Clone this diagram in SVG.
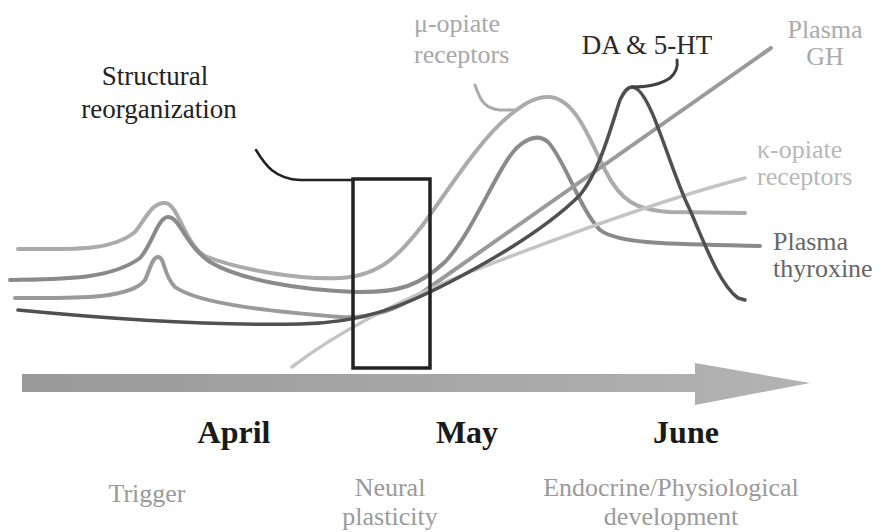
<svg xmlns="http://www.w3.org/2000/svg" width="885" height="532" viewBox="0 0 885 532">
  <defs>
    <linearGradient id="arrowGrad" x1="0" y1="0" x2="1" y2="0">
      <stop offset="0" stop-color="#999999"/>
      <stop offset="0.5" stop-color="#a6a6a6"/>
      <stop offset="1" stop-color="#b3b3b3"/>
    </linearGradient>
  </defs>
  <style>
    .curve { fill: none; stroke-linecap: round; stroke-linejoin: round; }
    .mu { stroke: #ababab; stroke-width: 4; }
    .thy { stroke: #8a8a8a; stroke-width: 4; }
    .gh { stroke: #9a9a9a; stroke-width: 4; }
    .da { stroke: #505050; stroke-width: 3.5; }
    .kappa { stroke: #c4c4c4; stroke-width: 3.5; }
    .lead { fill: none; stroke-linecap: round; }
  </style>
  <rect width="885" height="532" fill="#ffffff"/>

  <g id="connectors">
    <path id="mu-curve" class="curve mu" d="M18,249 C70,249 110,252 135,232 C148,215 152,203 165,203 C178,203 185,245 205,256 C240,270 300,280 340,278 C380,276 400,255 425,222 C455,180 480,140 510,115 C525,103 535,97 548,97 C575,97 590,140 605,170 C620,200 635,210 670,212 L745,213"/>
    <path id="thyroxine-curve" class="curve thy" d="M10,280 C60,279 110,280 140,258 C152,245 158,217 168,217 C180,217 185,245 210,262 C240,280 300,290 355,292 C400,293 420,285 445,262 C475,230 500,160 520,145 C530,137 540,135 548,142 C565,160 580,210 600,230 C620,245 680,244 760,246"/>
    <path id="gh-curve" class="curve gh" d="M15,298 C70,298 130,300 145,280 C150,270 152,257 158,257 C165,257 163,275 175,287 C200,305 280,312 340,317 C370,319 395,311 420,294 L771,48"/>
    <path id="kappa-curve" class="curve kappa" d="M292,367 C340,330 400,300 470,272 C560,237 660,200 745,178"/>
    <path id="da-curve" class="curve da" d="M18,310 C100,318 200,326 300,324 C360,323 400,308 450,282 C500,256 550,225 580,195 C600,170 610,130 620,100 C625,90 628,87 632,87 C640,87 650,105 660,133 C672,165 680,190 690,210 C705,245 720,285 738,298 L745,300"/>
    <path id="structural-leader" class="lead" stroke="#222" stroke-width="2.5" d="M256,150 C265,165 275,179 300,180 L353,180"/>
    <path id="mu-leader" class="lead" stroke="#ababab" stroke-width="3" d="M475,85 C480,100 485,109 500,110 L517,110"/>
    <path id="da-leader" class="lead" stroke="#404040" stroke-width="3" d="M632,87 C645,87 660,85 670,78 C677,72 678,66 677,60"/>
  </g>

  <g id="box">
    <rect x="353" y="179" width="77" height="189" fill="none" stroke="#222" stroke-width="3.5"/>
  </g>

  <g id="time-arrow">
    <path d="M22,374 L695,374 L695,363 L810,383 L695,405 L695,392 L22,392 Z" fill="url(#arrowGrad)"/>
  </g>

  <g id="label-structural" font-family="'Liberation Serif', serif" font-size="27" fill="#222" text-anchor="middle">
    <text x="155" y="85">Structural</text>
    <text x="159" y="118">reorganization</text>
  </g>
  <g id="label-mu" font-family="'Liberation Serif', serif" font-size="26" fill="#a8a8a8">
    <text x="414" y="32">&#956;-opiate</text>
    <text x="414" y="63">receptors</text>
  </g>
  <g id="label-da" font-family="'Liberation Serif', serif" font-size="27" fill="#2a2a2a" text-anchor="middle">
    <text x="647" y="54">DA &amp; 5-HT</text>
  </g>
  <g id="label-gh" font-family="'Liberation Serif', serif" font-size="26" fill="#aaaaaa" text-anchor="middle">
    <text x="825" y="38">Plasma</text>
    <text x="825" y="65">GH</text>
  </g>
  <g id="label-kappa" font-family="'Liberation Serif', serif" font-size="26" fill="#b8b8b8">
    <text x="757" y="158">&#954;-opiate</text>
    <text x="757" y="185">receptors</text>
  </g>
  <g id="label-thyroxine" font-family="'Liberation Serif', serif" font-size="26" fill="#666666">
    <text x="773" y="250">Plasma</text>
    <text x="773" y="277">thyroxine</text>
  </g>

  <g id="months" font-family="'Liberation Serif', serif" font-size="32" font-weight="bold" fill="#1a1a1a" text-anchor="middle">
    <text x="234" y="443">April</text>
    <text x="467" y="443">May</text>
    <text x="686" y="443">June</text>
  </g>

  <g id="phases" font-family="'Liberation Serif', serif" font-size="26" fill="#9a9a9a" text-anchor="middle">
    <text x="147" y="502">Trigger</text>
    <text x="390" y="496">Neural</text>
    <text x="390" y="525">plasticity</text>
    <text x="671" y="496">Endocrine/Physiological</text>
    <text x="671" y="525">development</text>
  </g>
</svg>
